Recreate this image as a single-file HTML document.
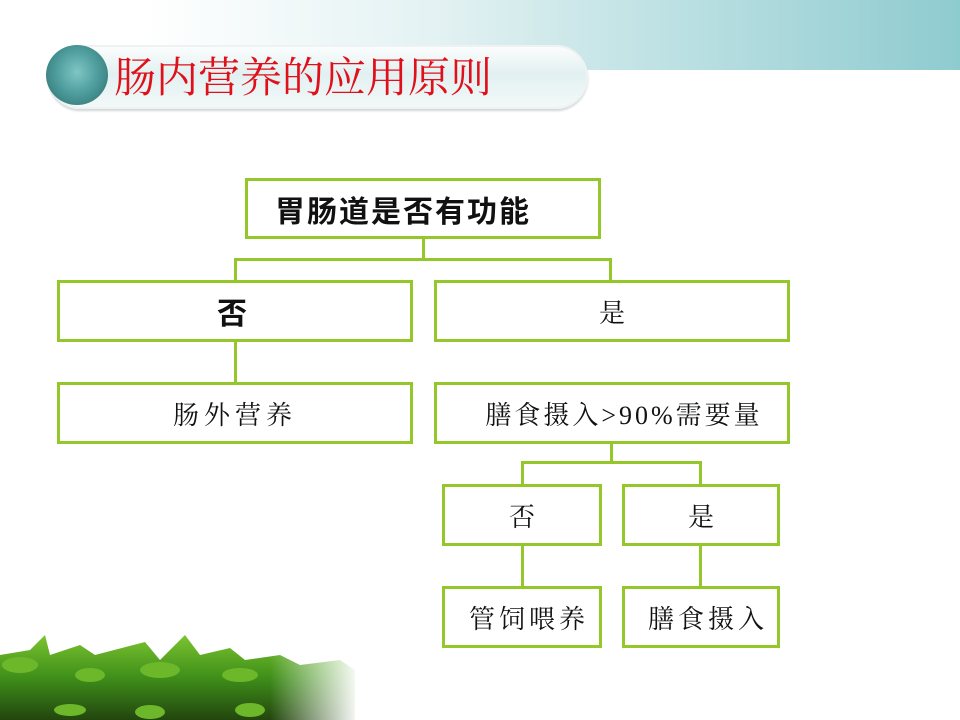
<!DOCTYPE html>
<html><head><meta charset="utf-8"><style>
body{margin:0;width:960px;height:720px;position:relative;overflow:hidden;background:#fff;font-family:"Liberation Sans","Noto Sans CJK SC",sans-serif}
.band{position:absolute;left:0;top:0;width:960px;height:70px;background:linear-gradient(90deg,#fff 0%,#fff 15%,#e4f2f3 45%,#b5dde0 75%,#8ecbcf 100%)}
.pill{position:absolute;left:48px;top:45px;width:540px;height:64px;border-radius:32px;background:linear-gradient(180deg,#fdfefe 0%,#e2f0f1 45%,#f4f9f9 100%);box-shadow:0 2px 2px #d0d6d6,inset 0 0 0 2px #eef2f2}
.circ{position:absolute;left:46px;top:45px;width:62px;height:60px;border-radius:50%;background:radial-gradient(ellipse at 50% 45%,#7fc6c6 0%,#4c9a9a 50%,#2c6a6a 100%)}
.title{position:absolute;left:114px;top:53px;font-family:"Liberation Serif","Noto Serif CJK SC",serif;font-size:42px;color:#e0101a;letter-spacing:0px;line-height:52px}
.box{position:absolute;border:3px solid #93c72a;box-sizing:border-box;background:#fff;display:flex;align-items:center;justify-content:center;font-size:26px;color:#111;font-family:"Liberation Serif","Noto Serif CJK SC",serif;letter-spacing:5px}
.l{position:absolute;background:#93c72a}
</style></head><body>
<div class="band"></div>
<div class="pill"></div><div class="circ"></div>
<div class="title">肠内营养的应用原则</div>

<div class="l" style="left:422px;top:238px;width:3px;height:22px"></div>
<div class="l" style="left:234px;top:258px;width:378px;height:3px"></div>
<div class="l" style="left:234px;top:258px;width:3px;height:24px"></div>
<div class="l" style="left:609px;top:258px;width:3px;height:24px"></div>
<div class="l" style="left:234px;top:340px;width:3px;height:44px"></div>
<div class="l" style="left:610px;top:442px;width:3px;height:22px"></div>
<div class="l" style="left:521px;top:461px;width:181px;height:3px"></div>
<div class="l" style="left:521px;top:461px;width:3px;height:25px"></div>
<div class="l" style="left:699px;top:461px;width:3px;height:25px"></div>
<div class="l" style="left:521px;top:544px;width:3px;height:44px"></div>
<div class="l" style="left:699px;top:544px;width:3px;height:44px"></div>

<div class="box" style="left:245px;top:178px;width:356px;height:61px;font-family:'Liberation Sans','Noto Sans CJK SC',sans-serif;font-weight:bold;font-size:30px;letter-spacing:2px;padding-right:40px">胃肠道是否有功能</div>
<div class="box" style="left:57px;top:280px;width:356px;height:62px;font-family:'Liberation Sans','Noto Sans CJK SC',sans-serif;font-weight:bold;font-size:30px;letter-spacing:0;padding-right:6px">否</div>
<div class="box" style="left:434px;top:280px;width:356px;height:62px;letter-spacing:0">是</div>
<div class="box" style="left:57px;top:382px;width:356px;height:62px">肠外营养</div>
<div class="box" style="left:434px;top:382px;width:356px;height:62px;letter-spacing:3px;padding-left:24px">膳食摄入&gt;90%需要量</div>
<div class="box" style="left:442px;top:484px;width:160px;height:62px;letter-spacing:0">否</div>
<div class="box" style="left:622px;top:484px;width:158px;height:62px;letter-spacing:0">是</div>
<div class="box" style="left:442px;top:586px;width:160px;height:62px;padding-left:14px;letter-spacing:4px">管饲喂养</div>
<div class="box" style="left:622px;top:586px;width:158px;height:62px;padding-left:14px;letter-spacing:4px">膳食摄入</div>

<svg style="position:absolute;left:0;top:630px" width="360" height="90">
<defs>
<linearGradient id="g" x1="0" y1="0" x2="0" y2="1"><stop offset="0" stop-color="#7cc430"/><stop offset="0.5" stop-color="#3f8f1a"/><stop offset="1" stop-color="#23450e"/></linearGradient>
<linearGradient id="f" x1="0" y1="0" x2="1" y2="0"><stop offset="0.75" stop-color="#fff" stop-opacity="0"/><stop offset="1" stop-color="#fff" stop-opacity="1"/></linearGradient>
</defs>
<path d="M0,25 L30,20 L45,5 L50,25 L80,15 L95,25 L145,12 L160,30 L185,5 L200,25 L230,18 L245,30 L280,25 L300,35 L340,30 L355,40 L355,90 L0,90 Z" fill="url(#g)"/>
<g fill="#6cb82a">
<ellipse cx="20" cy="35" rx="18" ry="8"/><ellipse cx="90" cy="45" rx="15" ry="7"/><ellipse cx="160" cy="40" rx="20" ry="8"/><ellipse cx="240" cy="45" rx="18" ry="7"/><ellipse cx="150" cy="82" rx="15" ry="7"/><ellipse cx="70" cy="80" rx="16" ry="6"/><ellipse cx="250" cy="80" rx="15" ry="7"/>
</g>
<rect x="0" y="0" width="360" height="90" fill="url(#f)"/>
</svg>
</body></html>
